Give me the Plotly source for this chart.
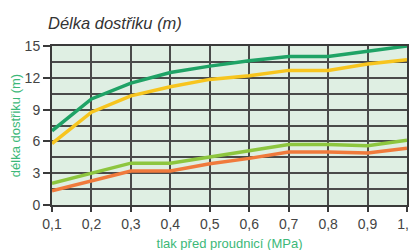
import plotly.graph_objects as go

pressure = [0.1, 0.2, 0.3, 0.4, 0.5, 0.6, 0.7, 0.8, 0.9, 1.0]
series_dark_green = [7.0, 10.0, 11.5, 12.5, 13.1, 13.6, 14.0, 14.0, 14.5, 15.0]
series_yellow = [5.8, 8.75, 10.3, 11.15, 11.85, 12.2, 12.7, 12.7, 13.3, 13.7]
series_light_green = [2.05, 3.0, 3.95, 3.95, 4.55, 5.15, 5.7, 5.7, 5.6, 6.1]
series_orange = [1.35, 2.3, 3.2, 3.2, 3.9, 4.4, 5.0, 5.0, 4.9, 5.35]
x_ticks = ["0,1", "0,2", "0,3", "0,4", "0,5", "0,6", "0,7", "0,8", "0,9", "1,0"]
y_ticks = [0, 3, 6, 9, 12, 15]

fig = go.Figure()
for vals, col in [(series_orange, "#f07a3c"), (series_light_green, "#8dc63f"),
                  (series_yellow, "#f7c51e"), (series_dark_green, "#1fa366")]:
    fig.add_trace(go.Scatter(x=pressure, y=vals, mode="lines",
                             line=dict(color=col, width=3.5), hoverinfo="skip"))

fig.update_layout(
    width=417, height=250,
    margin=dict(l=44, r=18, t=38, b=53, autoexpand=False),
    plot_bgcolor="#dfefe3", paper_bgcolor="white",
    showlegend=False,
    font=dict(family="Liberation Sans, Arial, sans-serif", color="#333333", size=14),
    title=dict(text="<i>Délka dostřiku (m)</i>", x=40/417, xanchor="left",
               y=1 - 15/250, yanchor="middle",
               font=dict(size=16.5, color="#333333")),
)
fig.update_xaxes(
    range=[0.1, 1.0], tickvals=pressure, ticktext=x_ticks,
    showgrid=True, gridcolor="#4a4a4a", gridwidth=2,
    showline=True, linecolor="#3a3a3a", linewidth=2, mirror=True,
    ticks="outside", ticklen=5, tickcolor="#3a3a3a", tickwidth=2,
    zeroline=False, tickfont=dict(size=14, color="#444444"), automargin=False,
    title=dict(text="tlak před proudnicí (MPa)", font=dict(size=13, color="#3cb878"), standoff=8),
)
fig.update_yaxes(
    range=[0, 15], tickvals=y_ticks,
    showgrid=True, gridcolor="#4a4a4a", gridwidth=2,
    minor=dict(dtick=1.5, showgrid=True, gridcolor="#4a4a4a", gridwidth=2),
    showline=True, linecolor="#3a3a3a", linewidth=2, mirror=True,
    ticks="outside", ticklen=7, tickcolor="#3a3a3a", tickwidth=2,
    zeroline=False, tickfont=dict(size=14, color="#444444"), automargin=False,
    title=dict(text="délka dostřiku (m)", font=dict(size=13, color="#3cb878"), standoff=11),
)
fig.write_html("out.html")
